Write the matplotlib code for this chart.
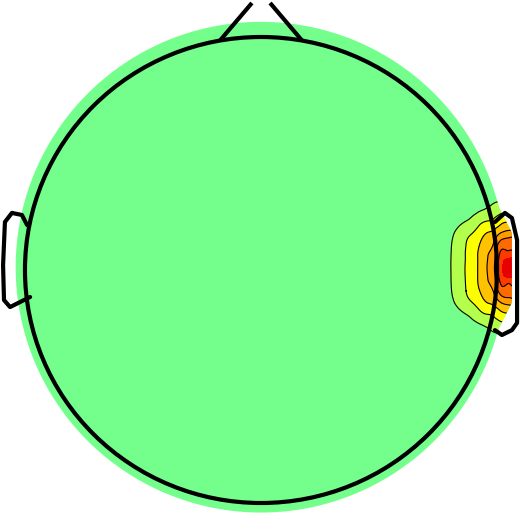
import numpy as np
import matplotlib
matplotlib.use("Agg")
import matplotlib.pyplot as plt
import matplotlib.tri as mtri
from matplotlib.patches import Ellipse, Polygon

# field around the right edge (head units)
grid_x = [0.60, 0.75, 0.82, 0.88, 0.93, 0.97, 1.00, 1.03, 1.06, 1.09, 1.12]
grid_dy = [0.0, 0.05, 0.10, 0.15, 0.20, 0.25, 0.30, 0.40, 0.55]
field_center_y = 0.01
# rows: dy from 0 upward, columns: grid_x
field_half = [
    [0.0, 0.25, 1.08, 2.07, 3.00, 4.00, 4.90, 6.70, 8.00, 8.60, 8.60],
    [0.0, 0.24, 1.07, 2.05, 3.00, 3.95, 4.70, 6.30, 6.60, 7.00, 7.00],
    [0.0, 0.22, 1.03, 2.00, 2.80, 3.60, 4.15, 5.50, 5.60, 5.90, 5.90],
    [0.0, 0.15, 0.85, 1.70, 2.30, 3.00, 3.30, 4.00, 4.30, 4.50, 4.50],
    [0.0, 0.10, 0.50, 1.00, 1.60, 2.00, 2.20, 2.70, 2.90, 3.00, 3.00],
    [0.0, 0.00, 0.20, 0.50, 0.80, 1.10, 1.40, 1.60, 1.80, 1.90, 1.90],
    [0.0, 0.00, 0.05, 0.15, 0.30, 0.50, 0.70, 0.80, 0.90, 1.00, 1.00],
    [0.0, 0.00, 0.00, 0.00, 0.00, 0.05, 0.10, 0.10, 0.15, 0.20, 0.20],
    [0.0, 0.00, 0.00, 0.00, 0.00, 0.00, 0.00, 0.00, 0.00, 0.00, 0.00],
]

levels = [1, 2, 3, 4, 5, 6, 7, 100]
line_levels = [1, 2, 3, 4, 5, 6]
band_colors = ['#b2ff4c', '#fbff00', '#ffc200', '#ff9a00',
               '#ff6a00', '#ff3a00', '#e60000']
base_color = '#74ff8d'

# head drawing (head units, radius 1)
left_ear_x = [-1.004, -1.026, -1.069, -1.099, -1.107, -1.103, -1.077, -0.991]
left_ear_y = [0.193, 0.236, 0.245, 0.206, 0.021, -0.129, -0.159, -0.116]
right_ear_x = [1.004, 1.047, 1.077, 1.099, 1.099, 1.077, 1.034, 1.004]
right_ear_y = [0.206, 0.245, 0.223, 0.129, -0.227, -0.258, -0.279, -0.258]
nose_left_x = [-0.176, -0.039]
nose_right_x = [0.176, 0.039]
nose_y = [0.985, 1.146]

fig = plt.figure(figsize=(5.21, 5.21), dpi=100)
ax = fig.add_axes([0, 0, 1, 1])
ax.set_xlim(-261 / 233, 260 / 233)
ax.set_ylim(-251 / 233, 270 / 233)
ax.axis('off')

# outline of the interpolated area (slightly bulged on the right side)
theta = np.linspace(0, 2 * np.pi, 721)
ox = 1.053 * np.cos(theta)
oy = 0.012 + 1.053 * np.sin(theta)
bulge_x = np.interp(np.abs(oy - field_center_y),
                    [0, 0.15, 0.30, 0.31], [1.077, 1.077, 1.0, 0.0])
ox = np.where(ox > 0, np.maximum(ox, bulge_x), ox)
outline = Polygon(np.column_stack([ox, oy]), closed=True,
                  facecolor=base_color, edgecolor='none', zorder=1)
ax.add_patch(outline)

half = np.array(field_half)
z = np.vstack([half[:0:-1], half])
dy = np.concatenate([-np.array(grid_dy[:0:-1]), grid_dy])
gx, gy = np.meshgrid(grid_x, dy + field_center_y)
triang = mtri.Triangulation(gx.ravel(), gy.ravel())
refiner = mtri.UniformTriRefiner(triang)
tri_fine, z_fine = refiner.refine_field(z.ravel(), subdiv=4)

cf = ax.tricontourf(tri_fine, z_fine, levels=levels, colors=band_colors, zorder=2)
cl = ax.tricontour(tri_fine, z_fine, levels=line_levels, colors='black',
                   linewidths=0.8, zorder=3)
cf.set_clip_path(outline)
cl.set_clip_path(outline)

ax.add_patch(Ellipse((0, 0), 2 * 1.013, 2, fill=False, edgecolor='black',
                     linewidth=3.0, zorder=4))
for xs, ys in [(left_ear_x, left_ear_y), (right_ear_x, right_ear_y)]:
    ax.plot(xs, ys, color='black', linewidth=3.0, solid_joinstyle='round',
            solid_capstyle='round', zorder=4)
for xs in [nose_left_x, nose_right_x]:
    ax.plot(xs, nose_y, color='black', linewidth=3.0, solid_capstyle='butt', zorder=4)

fig.savefig('out.png', dpi=100)
